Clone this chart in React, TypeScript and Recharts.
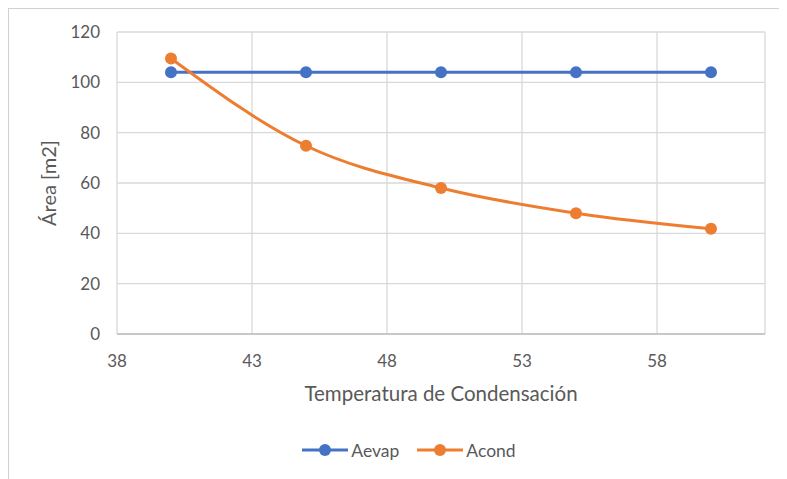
import React from "react";
import {
  LineChart,
  Line,
  XAxis,
  YAxis,
  CartesianGrid,
  Legend,
} from "recharts";

const seriesNames = ["Aevap", "Acond"];
const temperatures = [40, 45, 50, 55, 60];
const aevap = [104, 104, 104, 104, 104];
const acond = [109.5, 74.8, 58, 48, 41.8];
const xTicks = [38, 43, 48, 53, 58];
const yTicks = [0, 20, 40, 60, 80, 100, 120];

const data = temperatures.map((t, i) => ({
  t,
  Aevap: aevap[i],
  Acond: acond[i],
}));

const FONT = "Lato, 'Open Sans', sans-serif";
const TEXT = "#595959";

const YTitle = ({ viewBox }: any) => {
  const x = viewBox.x + 19;
  const y = viewBox.y + viewBox.height / 2;
  return (
    <text
      x={x}
      y={y}
      transform={`rotate(-90 ${x} ${y})`}
      textAnchor="middle"
      dominantBaseline="central"
      fill={TEXT}
      fontSize={20}
      fontFamily={FONT}
    >
      Área [m2]
    </text>
  );
};

const XTitle = ({ viewBox }: any) => (
  <text
    x={viewBox.x + viewBox.width / 2}
    y={viewBox.y + 59}
    textAnchor="middle"
    dominantBaseline="central"
    fill={TEXT}
    fontSize={20.5}
    fontFamily={FONT}
  >
    Temperatura de Condensación
  </text>
);

const LegendContent = ({ payload }: any) => {
  const items = [...(payload || [])].sort(
    (a: any, b: any) => seriesNames.indexOf(a.value) - seriesNames.indexOf(b.value)
  );
  return (
    <div
      style={{
        display: "flex",
        justifyContent: "center",
        alignItems: "center",
        height: 24,
        gap: 18,
        fontFamily: FONT,
        fontSize: 17.5,
        color: TEXT,
      }}
    >
      {items.map((p: any) => (
        <div key={p.value} style={{ display: "flex", alignItems: "center" }}>
          <svg width={46} height={14} style={{ marginRight: 3 }}>
            <line x1={0} y1={7} x2={46} y2={7} stroke={p.color} strokeWidth={3} />
            <circle cx={23} cy={7} r={6} fill={p.color} />
          </svg>
          <span>{p.value}</span>
        </div>
      ))}
    </div>
  );
};

export default function App() {
  return (
    <div
      style={{
        width: 779,
        height: 471,
        overflow: "hidden",
        borderTop: "1px solid #d0d0d0",
        borderLeft: "1px solid #d0d0d0",
        background: "#fff",
        boxSizing: "border-box",
      }}
    >
      <LineChart
        width={800}
        height={470}
        data={data}
        margin={{ top: 23, right: 44, left: 20, bottom: 17 }}
      >
        <CartesianGrid stroke="#d9d9d9" strokeWidth={1.3} />
        <XAxis
          dataKey="t"
          type="number"
          domain={[38, 62]}
          ticks={xTicks}
          height={104}
          tickSize={0}
          tickMargin={21}
          axisLine={{ stroke: "#bfbfbf", strokeWidth: 1.5 }}
          tick={{ fill: TEXT, fontSize: 17, fontFamily: FONT }}
          label={<XTitle />}
        />
        <YAxis
          type="number"
          domain={[0, 120]}
          ticks={yTicks}
          width={88}
          tickSize={0}
          tickMargin={17}
          axisLine={false}
          tick={{ fill: TEXT, fontSize: 17, fontFamily: FONT }}
          label={<YTitle />}
        />
        <Legend
          verticalAlign="bottom"
          wrapperStyle={{ height: 24, left: 0, width: 800 }}
          content={<LegendContent />}
        />
        <Line
          type="monotone"
          dataKey="Aevap"
          stroke="#4472C4"
          strokeWidth={3}
          dot={{ r: 6, fill: "#4472C4", stroke: "#4472C4", strokeWidth: 0 }}
          isAnimationActive={false}
        />
        <Line
          type="monotone"
          dataKey="Acond"
          stroke="#ED7D31"
          strokeWidth={3}
          dot={{ r: 6, fill: "#ED7D31", stroke: "#ED7D31", strokeWidth: 0 }}
          isAnimationActive={false}
        />
      </LineChart>
    </div>
  );
}
